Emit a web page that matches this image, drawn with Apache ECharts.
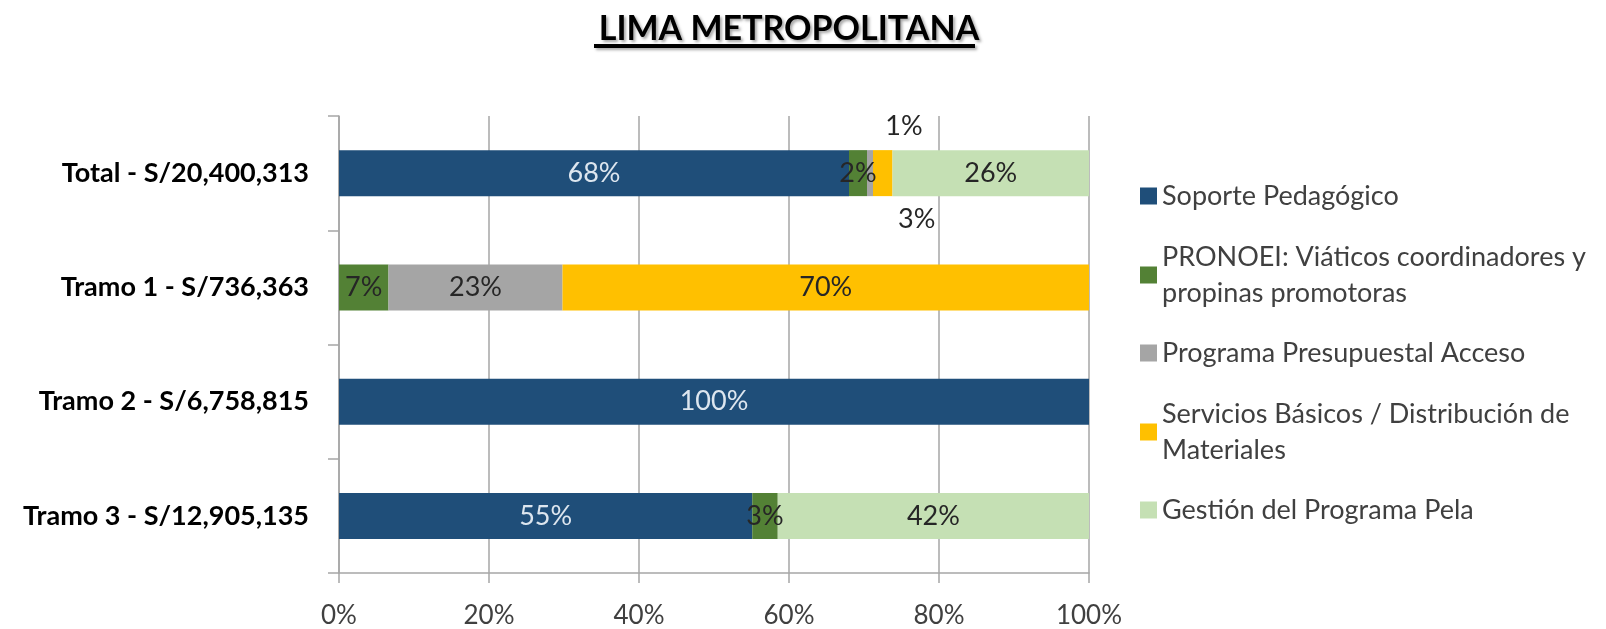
<!DOCTYPE html>
<html>
<head>
<meta charset="utf-8">
<script src="https://cdn.jsdelivr.net/npm/echarts@6/dist/echarts.min.js"></script>
<style>
  html, body { margin: 0; padding: 0; background: #fff; }
  #grafico { width: 1606px; height: 629px; }
</style>
</head>
<body>
<div id="grafico"></div>
<script>
// Datos (porcentajes por tramo)
const categorias = ["Total - S/20,400,313", "Tramo 1 - S/736,363", "Tramo 2 - S/6,758,815", "Tramo 3 - S/12,905,135"];
const soporte = [68.0, 0, 100, 55.1];
const pronoei = [2.4, 6.6, 0, 3.4];
const programa = [0.8, 23.2, 0, 0];
const servicios = [2.6, 70.2, 0, 0];
const gestion = [26.2, 0, 0, 41.5];
const ticksX = ["0%", "20%", "40%", "60%", "80%", "100%"];

const nombres = [
  "Soporte Pedagógico",
  "PRONOEI: Viáticos coordinadores y\npropinas promotoras",
  "Programa Presupuestal Acceso",
  "Servicios Básicos / Distribución de\nMateriales",
  "Gestión del Programa Pela",
];
const colores = ["#1f4e79", "#538135", "#a5a5a5", "#ffc000", "#c5e0b4"];

let chart = echarts.init(document.getElementById("grafico"));
const fuente = "Lato";

function etiqueta(p) {
  return p.value > 0 ? Math.round(p.value) + "%" : "";
}

function serie(i, valores, colorTexto, especial) {
  return {
    name: nombres[i],
    type: "bar",
    stack: "total",
    barWidth: 46,
    itemStyle: { color: colores[i] },
    label: {
      show: true,
      position: "inside",
      formatter: etiqueta,
      color: colorTexto,
      fontFamily: fuente,
      fontSize: 27,
    },
    data: valores.map((v, k) => (k === 0 && especial ? { value: v, label: especial } : v)),
  };
}

// Leyenda: un componente por elemento para reproducir el espaciado
const centrosLeyenda = [196, 275, 353, 432, 510];
const leyendas = nombres.map((n, i) => {
  const dosLineas = n.includes("\n");
  return {
    orient: "vertical",
    left: 1140,
    top: dosLineas ? centrosLeyenda[i] - 54 : centrosLeyenda[i] - 18,
    padding: 0,
    itemWidth: 17,
    itemHeight: 17,
    icon: "rect",
    selectedMode: false,
    data: [n],
    textStyle: {
      fontFamily: fuente,
      fontSize: 27,
      color: "#404040",
      lineHeight: 36,
      padding: dosLineas ? [36, 0, 0, 0] : 0,
    },
  };
});

chart.setOption({
  animation: false,
  title: {
    text: "LIMA METROPOLITANA",
    left: 784,
    top: 7,
    textAlign: "center",
    textStyle: {
      fontFamily: fuente,
      fontWeight: "bold",
      fontSize: 34,
      color: "#000",
      textShadowColor: "rgba(0,0,0,0.35)",
      textShadowBlur: 3,
      textShadowOffsetX: 2,
      textShadowOffsetY: 2,
    },
  },
  graphic: [
    {
      type: "rect",
      shape: { x: 594, y: 44, width: 381, height: 4 },
      style: { fill: "#000", shadowColor: "rgba(0,0,0,0.35)", shadowBlur: 3, shadowOffsetX: 2, shadowOffsetY: 2 },
    },
  ],
  legend: leyendas,
  grid: { left: 339, right: 517, top: 116, bottom: 53, containLabel: false },
  xAxis: {
    type: "value",
    min: 0,
    max: 100,
    interval: 20,
    axisLine: { show: true, lineStyle: { color: "#a6a6a6", width: 1.5 } },
    axisTick: { show: true, length: 10, lineStyle: { color: "#a6a6a6", width: 1.5 } },
    splitLine: { show: true, lineStyle: { color: "#a6a6a6", width: 1.5 } },
    axisLabel: {
      margin: 30,
      fontFamily: fuente,
      fontSize: 26,
      color: "#404040",
      formatter: (v) => ticksX[Math.round(v / 20)],
    },
  },
  yAxis: {
    type: "category",
    inverse: true,
    data: categorias,
    axisLine: { show: true, lineStyle: { color: "#a6a6a6", width: 1.5 } },
    axisTick: { show: true, length: 11, inside: false, lineStyle: { color: "#a6a6a6", width: 1.5 } },
    axisLabel: {
      margin: 30,
      fontFamily: fuente,
      fontWeight: "bold",
      fontSize: 27,
      color: "#000",
    },
  },
  series: [
    serie(0, soporte, "#dde6ef"),
    serie(1, pronoei, "#262626"),
    serie(2, programa, "#262626", { position: "top", distance: 10, offset: [34, 0] }),
    serie(3, servicios, "#262626", { position: "bottom", distance: 10, offset: [34, 0] }),
    serie(4, gestion, "#262626"),
  ],
});
</script>
</body>
</html>
